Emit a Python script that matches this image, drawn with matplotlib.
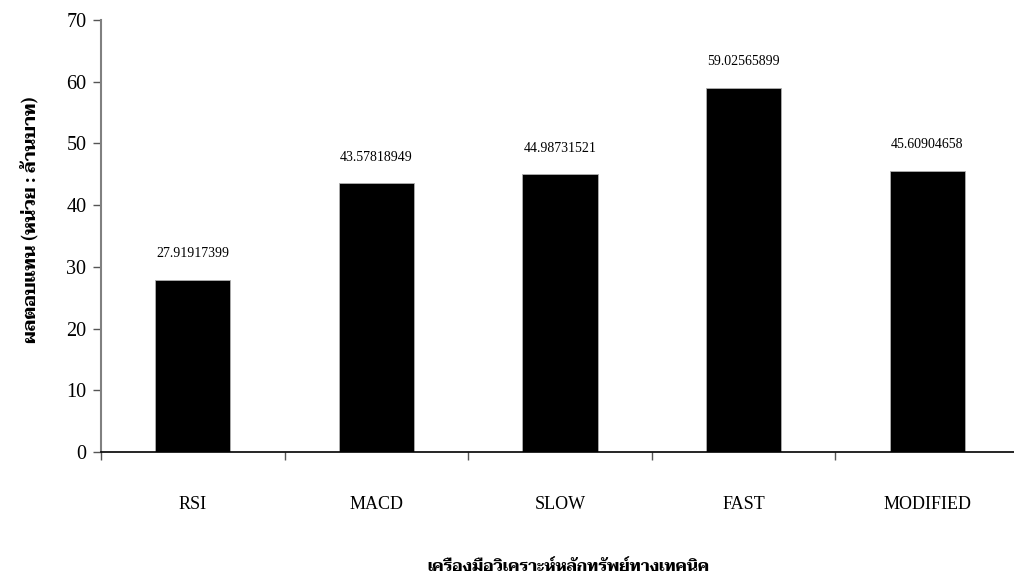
import matplotlib

matplotlib.use("Agg")
import matplotlib.pyplot as plt

# values
tools = ["RSI", "MACD", "SLOW", "FAST", "MODIFIED"]
returns = [27.91917399, 43.57818949, 44.98731521, 59.02565899, 45.60904658]
value_labels = ["27.91917399", "43.57818949", "44.98731521", "59.02565899", "45.60904658"]
y_ticks = [0, 10, 20, 30, 40, 50, 60, 70]

SERIF = ["Liberation Serif", "DejaVu Serif"]
THAI = ["Taviraj", "Noto Serif Thai", "Liberation Serif"]

fig = plt.figure(figsize=(10.14, 5.78), dpi=100)
ax = fig.add_axes([101 / 1014, 1 - 452 / 578, 918 / 1014, 432 / 578])

x = list(range(len(tools)))
ax.bar(x, returns, width=0.41, color="black", edgecolor="#b0b0b0", linewidth=0.6)
for xi, v, s in zip(x, returns, value_labels):
    ax.text(xi, v + 4.2, s, ha="center", va="center", fontsize=10, family=SERIF)

ax.set_xlim(-0.5, len(tools) - 0.5)
ax.set_ylim(0, 70)
ax.set_yticks(y_ticks)
ax.set_yticklabels([str(t) for t in y_ticks], family=SERIF, fontsize=14.5)

# category ticks sit on the boundaries, labels in between
ax.set_xticks([i - 0.5 for i in range(len(tools))])
ax.set_xticklabels([])
ax.set_xticks(x, minor=True)
ax.set_xticklabels(tools, minor=True, family=SERIF, fontsize=13)
ax.tick_params(axis="x", which="major", length=6, color="#555555", width=1)
ax.tick_params(axis="x", which="minor", length=0, pad=32)
ax.tick_params(axis="y", length=6, color="#555555", width=1, pad=4.5)

for side in ("top", "right"):
    ax.spines[side].set_visible(False)
ax.spines["left"].set_color("#808080")
ax.spines["left"].set_linewidth(1.5)
ax.spines["bottom"].set_color("black")
ax.spines["bottom"].set_linewidth(1.2)

fig.text(30 / 1014, 1 - 220 / 578, "ผลตอบแทน (หน่วย : ล้านบาท)", rotation=90,
         ha="center", va="center", fontsize=13, fontweight="bold", family=THAI)
fig.text(568 / 1014, 1 - 571 / 578, "เครื่องมือวิเคราะห์หลักทรัพย์ทางเทคนิค",
         ha="center", va="baseline", fontsize=11.5, fontweight="bold", family=THAI)

fig.savefig("out.png", dpi=100)
plt.close(fig)
